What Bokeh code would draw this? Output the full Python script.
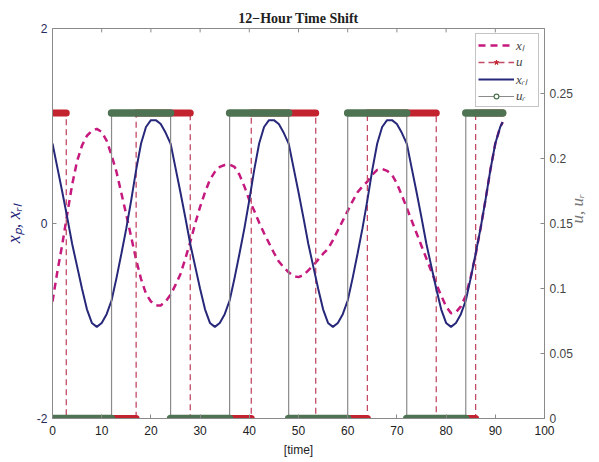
import math
from bokeh.plotting import figure
from bokeh.models import Range1d, LinearAxis, FixedTicker, Legend, LegendItem
from bokeh.embed import file_html
from bokeh.resources import INLINE

title_text = "12\u2212Hour Time Shift"

time = list(range(0, 92)) + [91.5]

x_l = [-0.80, -0.49, -0.21, 0.10, 0.40, 0.64, 0.80, 0.90, 0.95, 0.97,
       0.94, 0.85, 0.70, 0.53, 0.31, 0.09, -0.14, -0.37, -0.57, -0.72,
       -0.80, -0.84, -0.84, -0.80, -0.73, -0.63, -0.52, -0.36, -0.19, 0.00,
       0.17, 0.32, 0.45, 0.53, 0.58, 0.60, 0.605, 0.58, 0.50, 0.38,
       0.24, 0.13, 0.01, -0.10, -0.20, -0.30, -0.39, -0.45, -0.50, -0.54,
       -0.55, -0.53, -0.48, -0.43, -0.37, -0.31, -0.26, -0.17, -0.07, 0.03,
       0.13, 0.23, 0.32, 0.38, 0.43, 0.50, 0.55, 0.56, 0.54, 0.50,
       0.41, 0.29, 0.16, 0.03, -0.10, -0.23, -0.36, -0.49, -0.62, -0.74,
       -0.85, -0.92, -0.91, -0.85, -0.74, -0.55, -0.32, -0.05, 0.24, 0.55,
       0.82, 0.99, 1.04]

x_r1 = [0.82, 0.57, 0.32, 0.06, -0.21, -0.44, -0.67, -0.88, -1.02, -1.06,
        -1.02, -0.93, -0.79, -0.56, -0.31, -0.05, 0.24, 0.55, 0.82, 0.99,
        1.06, 1.06, 1.02, 0.93,
        0.82, 0.57, 0.32, 0.06, -0.21, -0.44, -0.67, -0.88, -1.02, -1.06,
        -1.02, -0.93, -0.79, -0.56, -0.31, -0.05, 0.24, 0.55, 0.82, 0.99,
        1.06, 1.06, 1.02, 0.93,
        0.82, 0.57, 0.32, 0.06, -0.21, -0.44, -0.67, -0.88, -1.02, -1.06,
        -1.02, -0.93, -0.79, -0.56, -0.31, -0.05, 0.24, 0.55, 0.82, 0.99,
        1.06, 1.06, 1.02, 0.93,
        0.82, 0.57, 0.32, 0.06, -0.21, -0.44, -0.67, -0.88, -1.02, -1.06,
        -1.02, -0.93, -0.79, -0.56, -0.31, -0.05, 0.24, 0.55, 0.82, 0.99,
        1.04]

u_switch = [0, 2.8, 17, 28, 40.4, 53.5, 64, 78, 86, 91.5]
u_level = [0.235, 0, 0.235, 0, 0.235, 0, 0.235, 0, 0.235]
ur_switch = [0, 12, 24, 36, 48, 60, 72, 84, 91.5]
ur_level = [0, 0.235, 0, 0.235, 0, 0.235, 0, 0.235]

x_ticks = [0, 10, 20, 30, 40, 50, 60, 70, 80, 90, 100]
left_ticks = [-2, 0, 2]
left_tick_labels = ["-2", "0", "2"]
right_ticks = [0, 0.05, 0.1, 0.15, 0.2, 0.25]
right_tick_labels = ["0", "0.05", "0.1", "0.15", "0.2", "0.25"]

legend_labels = ["x\u2097", "u", "x\u1d63\u2097", "u\u1d63"]
left_label = "x\u209a, x\u1d63\u2097"
right_label = "u, u\u1d63"
x_label = "[time]"

C_XL = "#c5197d"
C_XR = "#27287a"
C_U = "#c3222f"
C_ULINE = "#c24a66"
C_UR = "#4e7352"
C_URLINE = "#8a8a8a"
AX = "#8a8a8a"


def step(sw, lv):
    xs, ys = [], []
    for a, b, v in zip(sw[:-1], sw[1:], lv):
        xs += [a, b]
        ys += [v, v]
    return xs, ys


p = figure(width=599, height=462, x_range=Range1d(0, 100), y_range=Range1d(-2, 2),
           output_backend="svg", toolbar_location=None, title=title_text,
           min_border_left=49, min_border_right=53, min_border_top=28, min_border_bottom=44)
p.extra_y_ranges = {"u": Range1d(0, 0.3)}
p.xgrid.visible = False
p.ygrid.visible = False
p.outline_line_color = AX
p.background_fill_color = "white"
p.border_fill_color = "white"

p.title.text_font = "Liberation Serif"
p.title.text_font_style = "bold"
p.title.text_font_size = "14px"
p.title.align = "center"
p.title.text_color = "#222222"
p.title.standoff = 6


def style_axis(ax, size="12px", color="#222222"):
    ax.major_tick_in = 4
    ax.major_tick_out = 0
    ax.minor_tick_in = 0
    ax.minor_tick_out = 0
    ax.axis_line_color = AX
    ax.major_tick_line_color = AX
    ax.major_label_text_font = "Liberation Sans"
    ax.major_label_text_font_size = size
    ax.major_label_text_color = color


xa = p.xaxis[0]
xa.ticker = FixedTicker(ticks=x_ticks)
style_axis(xa)
xa.major_label_standoff = 7
xa.axis_label = x_label
xa.axis_label_text_font = "Liberation Sans"
xa.axis_label_text_font_style = "normal"
xa.axis_label_text_font_size = "12px"
xa.axis_label_text_color = "#222222"
xa.axis_label_standoff = 5

ya = p.yaxis[0]
ya.ticker = FixedTicker(ticks=left_ticks)
ya.major_label_overrides = {t: s for t, s in zip(left_ticks, left_tick_labels)}
style_axis(ya, color="#2a2a5a")
ya.major_label_standoff = 5
ya.axis_label = left_label
ya.axis_label_text_font = "Liberation Serif"
ya.axis_label_text_font_style = "italic"
ya.axis_label_text_font_size = "18px"
ya.axis_label_text_color = C_XR
ya.axis_label_standoff = 10

ra = LinearAxis(y_range_name="u", ticker=FixedTicker(ticks=right_ticks))
ra.major_label_overrides = {t: s for t, s in zip(right_ticks, right_tick_labels)}
style_axis(ra, color="#444444")
ra.major_label_standoff = 5
ra.axis_label = right_label
ra.axis_label_text_font = "Liberation Serif"
ra.axis_label_text_font_style = "italic"
ra.axis_label_text_font_size = "17px"
ra.axis_label_text_color = "#777777"
ra.axis_label_standoff = 2
ra.axis_label_orientation = math.pi / 2
p.add_layout(ra, "right")

# top-edge inward tick marks (box on)
p.segment(x0=x_ticks, y0=[2] * len(x_ticks), x1=x_ticks, y1=[1.96] * len(x_ticks),
          line_color=AX, line_width=1)

# x_l
r_xl = p.line(time, x_l, line_color=C_XL, line_width=2.5, line_dash="7 5")

# u
ux, uy = step(u_switch, u_level)
r_uline = p.line(ux, uy, y_range_name="u", line_color=C_ULINE, line_width=1.3, line_dash="6 4")
p.segment(x0=u_switch[:-1], y0=u_level, x1=u_switch[1:], y1=u_level, y_range_name="u",
          line_color=C_U, line_width=7, line_cap="round")
r_ustar = p.scatter(x=[-50], y=[-1], marker="star", size=8, fill_color=C_U, line_color=C_U,
                    y_range_name="u")

# x_r1
r_xr = p.line(time, x_r1, line_color=C_XR, line_width=2)

# u_r
urx, ury = step(ur_switch, ur_level)
r_urline = p.line(urx, ury, y_range_name="u", line_color=C_URLINE, line_width=1.2)
p.segment(x0=ur_switch[:-1], y0=ur_level, x1=ur_switch[1:], y1=ur_level, y_range_name="u",
          line_color=C_UR, line_width=7.5, line_cap="round")
r_urcirc = p.scatter(x=[-50], y=[-1], marker="circle", size=8, fill_color="white",
                     line_color=C_UR, line_width=1.2, y_range_name="u")

legend = Legend(items=[
    LegendItem(label=legend_labels[0], renderers=[r_xl]),
    LegendItem(label=legend_labels[1], renderers=[r_uline, r_ustar]),
    LegendItem(label=legend_labels[2], renderers=[r_xr]),
    LegendItem(label=legend_labels[3], renderers=[r_urline, r_urcirc]),
], location="top_right")
legend.margin = 5
legend.padding = 2
legend.spacing = 0
legend.glyph_width = 36
legend.glyph_height = 12
legend.label_height = 12
legend.label_standoff = 2
legend.label_text_font = "Liberation Serif"
legend.label_text_font_style = "italic"
legend.label_text_font_size = "13px"
legend.label_text_line_height = 1.0
legend.border_line_color = AX
legend.background_fill_alpha = 1
p.add_layout(legend)

open("out.html", "w").write(file_html(p, INLINE))
